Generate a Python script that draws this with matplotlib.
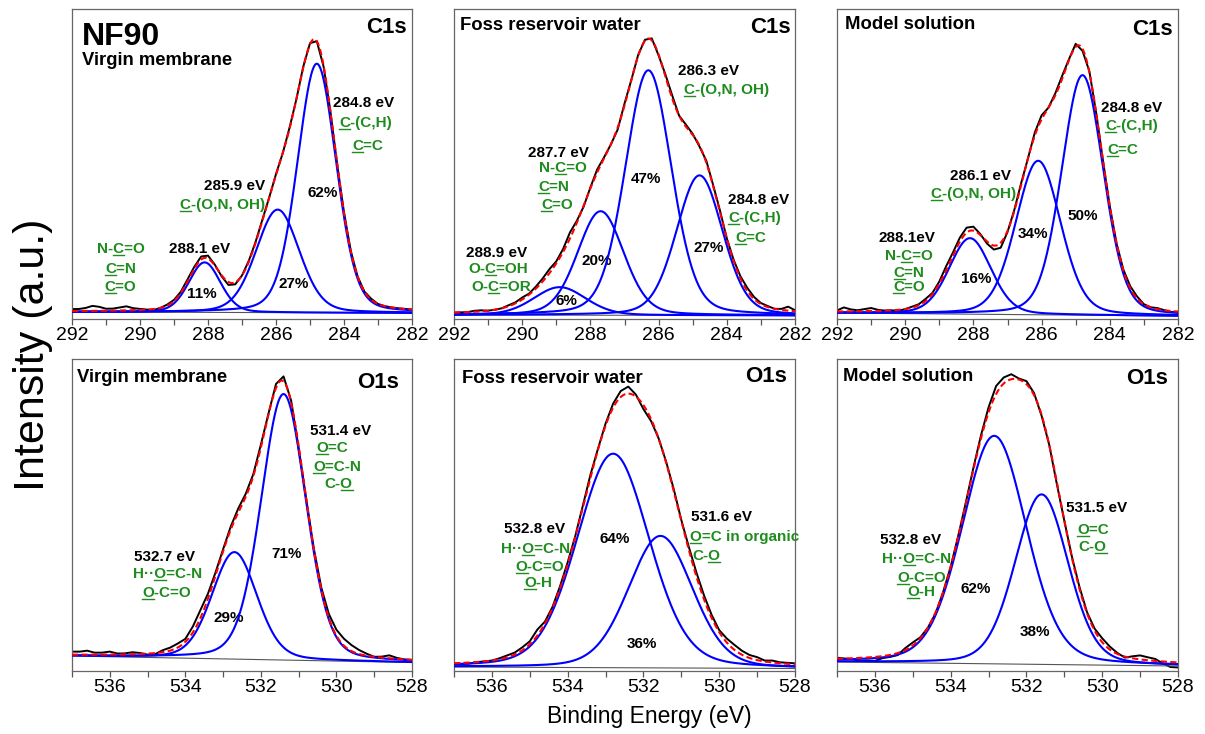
import numpy as np
import matplotlib.pyplot as plt
from matplotlib.lines import Line2D
from matplotlib.transforms import IdentityTransform

plt.rcParams['font.family'] = ['Liberation Sans', 'DejaVu Sans']

GREEN = '#1e8c1e'

# ---- fitted components: centre (eV), height (a.u.), FWHM (eV) ----
c1s_virgin_pos = [288.1, 285.95, 284.8]
c1s_virgin_h = [50, 103, 249]
c1s_virgin_w = [1.1, 1.5, 1.35]
c1s_virgin_bg = [7, 6]

c1s_foss_pos = [288.9, 287.7, 286.3, 284.8]
c1s_foss_h = [28, 104, 245, 140]
c1s_foss_w = [1.8, 1.6, 1.6, 1.6]
c1s_foss_bg = [4, 3.5]

c1s_model_pos = [288.1, 286.1, 284.8]
c1s_model_h = [76, 154, 240]
c1s_model_w = [1.45, 1.55, 1.45]
c1s_model_bg = [6, 3]

o1s_virgin_pos = [532.7, 531.4]
o1s_virgin_h = [107, 266]
o1s_virgin_w = [1.4, 1.4]
o1s_virgin_bg = [15, 8.5]

o1s_foss_pos = [532.8, 531.55]
o1s_foss_h = [214, 132]
o1s_foss_w = [2.25, 2.0]
o1s_foss_bg = [4, 2.5]

o1s_model_pos = [532.85, 531.6]
o1s_model_h = [228, 170]
o1s_model_w = [2.0, 1.65]
o1s_model_bg = [9, 5]

# measured spectrum minus fit envelope, every 0.2 eV from high to low BE
c1s_virgin_res = [2, 2, 3, 5, 4, 2, 2, 3, 4, 2,
                  1, 0, -1, 0, 1, 1, 1, 2, 2, 3,
                  3, 1, -1, -3, -2, 0, 1, 1, 1, 0,
                  1, 0, 1, 0, 1, 1, 0, -1, 0, 0,
                  1, 0, 0, 0, 1, 0, 0, 0, 0, 0, 0]
c1s_foss_res = [0, 0, 0, 1, 1, 0, 0, 0, 1, 1,
                2, 1, 2, 3, 4, 2, 3, 6, 2, -1,
                1, 3, 1, 0, -2, 2, 0, 1, 1, 2,
                -1, 2, 3, 0, 2, 1, -1, 2, 1, 2,
                0, 1, 2, 3, 2, 1, 1, 0, 1, 4, 1]
c1s_model_res = [1, 4, 2, 1, 2, 3, 1, 0, 0, -1,
                 0, 1, 1, 2, 1, 2, 4, 3, 4, 5,
                 4, 1, -2, -4, -5, -1, 1, 2, 0, 3,
                 4, 0, 2, 3, 1, 3, -2, 1, 0, 0,
                 0, 0, 1, 2, 2, 0, 0, 1, 0, -1, 0]
o1s_virgin_res = [3, 3, 4, 2, 2, 3, 1, 1, 2, 1,
                  -1, -1, 2, 3, 4, 3, 6, 8, 5, 3,
                  2, 3, 4, 3, 2, 3, 1, 4, 5, 2,
                  -2, 0, 1, 2, 4, 6, 7, 6, 4, 2,
                  0, 1, 3, 1, 0, 0]
o1s_foss_res = [0, -1, -1, 0, 0, 0, 1, 2, 2, 3,
                3, 6, 2, 1, 2, 2, 1, 2, 3, 1,
                2, 4, 6, 7, 2, -4, -2, 0, 1, 2,
                1, 3, 4, 4, 3, 2, 4, 5, 4, 3,
                3, 1, 2, 1, 1, 1]
o1s_model_res = [1, 0, -1, -3, -3, -4, -2, -2, -2, 2,
                 3, 1, 0, -1, 0, 0, 1, 1, 2, 3,
                 5, 8, 6, 5, 1, 3, 2, -1, 0, -2,
                 0, 1, 2, 1, 2, 4, 3, 1, -1, 2,
                 4, 3, 2, -2, -5, -5]

panel_titles = ['Virgin membrane', 'Foss reservoir water', 'Model solution']

# annotations: text, underlined char index, x (eV), y, green?
c1s_virgin_notes = [
    ('284.8 eV', None, 283.41, 212, 0), ('C-(C,H)', 0, 283.36, 192, 1),
    ('C=C', 0, 283.31, 169, 1), ('62%', None, 284.64, 122, 0),
    ('285.9 eV', None, 287.21, 129, 0), ('C-(O,N, OH)', 0, 287.58, 110, 1),
    ('27%', None, 285.49, 31, 0), ('288.1 eV', None, 288.24, 66, 0),
    ('11%', None, 288.19, 21, 0), ('N-C=O', 2, 290.57, 66, 1),
    ('C=N', 0, 290.57, 46, 1), ('C=O', 0, 290.57, 28, 1)]
c1s_foss_notes = [
    ('286.3 eV', None, 284.55, 244, 0), ('C-(O,N, OH)', 0, 284.0, 225, 1),
    ('287.7 eV', None, 288.93, 162, 0), ('N-C=O', 2, 288.82, 147, 1),
    ('C=N', 0, 289.07, 128, 1), ('C=O', 0, 288.97, 110, 1),
    ('47%', None, 286.38, 136, 0), ('20%', None, 287.82, 54, 0),
    ('6%', None, 288.70, 14, 0), ('27%', None, 284.54, 67, 0),
    ('284.8 eV', None, 283.08, 115, 0), ('C-(C,H)', 0, 283.19, 97, 1),
    ('C=C', 0, 283.30, 77, 1), ('288.9 eV', None, 290.75, 62, 0),
    ('O-C=OH', 2, 290.70, 46, 1), ('O-C=OR', 2, 290.62, 28, 1)]
c1s_model_notes = [
    ('284.8 eV', None, 283.36, 207, 0), ('C-(C,H)', 0, 283.36, 189, 1),
    ('C=C', 0, 283.62, 165, 1), ('286.1 eV', None, 287.79, 139, 0),
    ('C-(O,N, OH)', 0, 288.0, 121, 1), ('50%', None, 284.79, 99, 0),
    ('34%', None, 286.26, 81, 0), ('288.1eV', None, 289.94, 77, 0),
    ('N-C=O', 2, 289.89, 59, 1), ('C=N', 0, 289.89, 42, 1),
    ('C=O', 0, 289.89, 28, 1), ('16%', None, 287.92, 36, 0)]
o1s_virgin_notes = [
    ('531.4 eV', None, 529.9, 236, 0), ('O=C', 0, 530.12, 219, 1),
    ('O=C-N', 0, 529.99, 200, 1), ('C-O', 2, 529.94, 183, 1),
    ('71%', None, 531.32, 113, 0), ('532.7 eV', None, 534.54, 110, 0),
    ('H\u00b7\u00b7O=C-N', 3, 534.48, 93, 1), ('O-C=O', 0, 534.49, 74, 1),
    ('29%', None, 532.86, 49, 0)]
o1s_foss_notes = [
    ('532.8 eV', None, 534.88, 138, 0), ('H\u00b7\u00b7O=C-N', 3, 534.85, 118, 1),
    ('O-C=O', 0, 534.73, 100, 1), ('O-H', 0, 534.77, 84, 1),
    ('64%', None, 532.76, 128, 0), ('36%', None, 532.04, 23, 0),
    ('531.6 eV', None, 529.95, 150, 0), ('O=C in organic', 0, 529.34, 130, 1),
    ('C-O', 2, 530.35, 111, 1)]
o1s_model_notes = [
    ('531.5 eV', None, 530.14, 159, 0), ('O=C', 0, 530.25, 137, 1),
    ('C-O', 2, 530.25, 120, 1), ('532.8 eV', None, 535.05, 127, 0),
    ('H\u00b7\u00b7O=C-N', 3, 534.91, 108, 1), ('O-C=O', 0, 534.77, 89, 1),
    ('O-H', 0, 534.78, 75, 1), ('62%', None, 533.34, 78, 0),
    ('38%', None, 531.78, 35, 0)]


def gl(x, c, h, w, m=0.2):
    d = ((x - c) / w) ** 2
    return h * ((1 - m) * np.exp(-4 * np.log(2) * d) + m / (1 + 4 * d))


fig = plt.figure(figsize=(12.05, 7.34), dpi=100)
W, H = 1205, 734
lefts = [72, 454, 837]
widths = [340, 341, 341]

c1s = [(c1s_virgin_pos, c1s_virgin_h, c1s_virgin_w, c1s_virgin_bg, c1s_virgin_res, c1s_virgin_notes),
       (c1s_foss_pos, c1s_foss_h, c1s_foss_w, c1s_foss_bg, c1s_foss_res, c1s_foss_notes),
       (c1s_model_pos, c1s_model_h, c1s_model_w, c1s_model_bg, c1s_model_res, c1s_model_notes)]
o1s = [(o1s_virgin_pos, o1s_virgin_h, o1s_virgin_w, o1s_virgin_bg, o1s_virgin_res, o1s_virgin_notes),
       (o1s_foss_pos, o1s_foss_h, o1s_foss_w, o1s_foss_bg, o1s_foss_res, o1s_foss_notes),
       (o1s_model_pos, o1s_model_h, o1s_model_w, o1s_model_bg, o1s_model_res, o1s_model_notes)]

title_pos = {  # (x frac, y frac) for sample name and core level per panel
    (0, 0): ((0.0285, 0.819), (0.986, 0.922)),
    (0, 1): ((0.0176, 0.932), (0.987, 0.922)),
    (0, 2): ((0.0235, 0.934), (0.984, 0.916)),
    (1, 0): ((0.014, 0.927), (0.963, 0.906)),
    (1, 1): ((0.0226, 0.922), (0.977, 0.925)),
    (1, 2): ((0.0185, 0.930), (0.972, 0.919)),
}

underlines = []
for row, (spectra, ehi, elo, top, bot, core) in enumerate(
        [(c1s, 292, 282, 9, 319, 'C1s'), (o1s, 537, 528, 359, 671, 'O1s')]):
    for col, (pos, hts, fw, bg, res, notes) in enumerate(spectra):
        ax = fig.add_axes([lefts[col] / W, 1 - bot / H, widths[col] / W, (bot - top) / H])
        x = np.linspace(ehi, elo, 600)
        base = bg[0] + (bg[1] - bg[0]) * (ehi - x) / (ehi - elo)
        xs = np.linspace(ehi, elo, len(res))
        base_s = bg[0] + (bg[1] - bg[0]) * (ehi - xs) / (ehi - elo)
        env = base.copy()
        env_s = base_s.copy()
        for c, h, w in zip(pos, hts, fw):
            env += gl(x, c, h, w)
            env_s += gl(xs, c, h, w)
        ax.plot(xs, env_s + np.array(res), color='black', lw=1.4, zorder=2)
        ax.plot(x, base, color='#555555', lw=0.8, zorder=3)
        for c, h, w in zip(pos, hts, fw):
            ax.plot(x, base + gl(x, c, h, w), color='#0000ff', lw=1.5, zorder=4)
        ax.plot(x, env, color='#ff0000', lw=1.5, ls=(0, (3, 1.6)), zorder=5)

        ax.set_xlim(ehi, elo)
        ax.set_ylim(0, bot - top)
        ax.set_yticks([])
        ax.set_xticks(np.arange(elo, ehi + 1, 2))
        ax.set_xticks(np.arange(elo, ehi + 1, 1), minor=True)
        ax.tick_params(axis='x', which='both', direction='out', length=4,
                       width=0.9, color='#555555', labelsize=14, pad=2)
        for s in ax.spines.values():
            s.set_color('#666666')
            s.set_linewidth(0.9)

        (tx, ty), (cx, cy) = title_pos[(row, col)]
        if row == 0 and col == 0:
            ax.text(tx, 0.884, 'NF90', transform=ax.transAxes, fontsize=23,
                    fontweight='bold', va='baseline', ha='left')
        ax.text(tx, ty, panel_titles[col], transform=ax.transAxes, fontsize=13.3,
                fontweight='bold', va='baseline', ha='left')
        ax.text(cx, cy, core, transform=ax.transAxes, fontsize=16,
                fontweight='bold', va='baseline', ha='right')

        for s, ul, nx, ny, g in notes:
            col_t = GREEN if g else 'black'
            t = ax.text(nx, ny, s, color=col_t, fontsize=11, fontweight='bold',
                        ha='center', va='baseline')
            if ul is not None:
                underlines.append((ax, t, s, ul, col_t, nx, ny))

fig.text(33 / W, 1 - 355 / H, 'Intensity (a.u.)', rotation=90, fontsize=31,
         ha='center', va='center')
fig.text(649 / W, 1 - 716 / H, 'Binding Energy (eV)', fontsize=16.5,
         ha='center', va='center')

fig.canvas.draw()
r = fig.canvas.get_renderer()
for ax, t, s, ul, c, nx, ny in underlines:
    bb = t.get_window_extent(r)
    prop = t.get_fontproperties()
    w0 = r.get_text_width_height_descent(s[:ul], prop, ismath=False)[0] if ul > 0 else 0
    w1 = r.get_text_width_height_descent(s[:ul + 1], prop, ismath=False)[0]
    by = ax.transData.transform((nx, ny))[1] - 2.2
    fig.add_artist(Line2D([bb.x0 + w0, bb.x0 + w1], [by, by], color=c, lw=1.0,
                          transform=IdentityTransform()))

fig.savefig('out.png', dpi=100)
